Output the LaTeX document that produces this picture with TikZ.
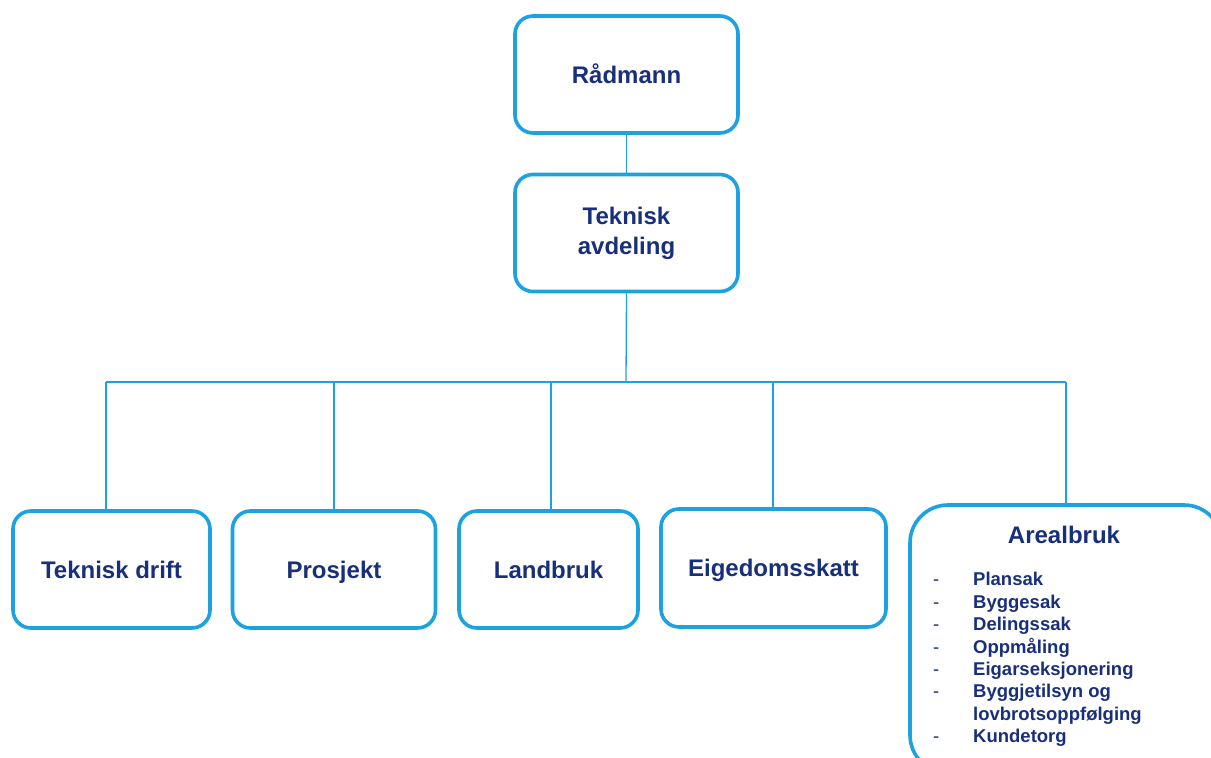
\documentclass[tikz,border=0pt]{standalone}
\usepackage{fontspec}
\setmainfont{Liberation Sans}
\definecolor{boxblue}{HTML}{1CA2E0}
\definecolor{txtblue}{HTML}{182F7C}
\begin{document}
\begin{tikzpicture}[x=1pt,y=-1pt,
  orgbox/.style={draw=boxblue, line width=3.6pt, rounded corners=18pt, fill=white,
    text=txtblue, font=\bfseries\fontsize{24}{30}\selectfont, align=center, inner sep=0pt},
  oneline/.style={text height=17.3pt, text depth=0pt},
  conn/.style={draw=boxblue, line width=1.3pt}]
\useasboundingbox (0,0) rectangle (1211,758);
\clip (0,0) rectangle (1211,758);
\fill[white] (0,0) rectangle (1211,758);

\node[orgbox, oneline, minimum width=223pt, minimum height=117pt] (rad) at (626.5,74.5) {Rådmann};
\node[orgbox, minimum width=223pt, minimum height=117pt] (tek) at (626.5,233) {Teknisk\\avdeling};

\node[orgbox, oneline, minimum width=197pt, minimum height=117pt] (td) at (111.5,569.5) {Teknisk drift};
\node[orgbox, oneline, minimum width=203pt, minimum height=117pt] (pro) at (334,569.5) {Prosjekt};
\node[orgbox, oneline, minimum width=179pt, minimum height=117pt] (land) at (548.5,569.5) {Landbruk};
\node[orgbox, oneline, minimum width=225pt, minimum height=118pt] (eig) at (773.5,568) {Eigedomsskatt};
\node[orgbox, rounded corners=38pt, minimum width=312pt, minimum height=268pt] (are) at (1066,639) {};
\node[text=txtblue, font=\bfseries\fontsize{24}{30}\selectfont, inner sep=0pt] (aretitle) at (1064,535) {Arealbruk};
\node[text=txtblue, font=\bfseries\fontsize{18.5}{22.4}\selectfont, inner sep=0pt, anchor=north west] (arelist) at (933,570)
{\begin{tabular}{@{}p{40pt}@{}l@{}}
\mdseries - & Plansak\\
\mdseries - & Byggesak\\
\mdseries - & Delingssak\\
\mdseries - & Oppmåling\\
\mdseries - & Eigarseksjonering\\
\mdseries - & Byggjetilsyn og\\
   & lovbrotsoppfølging\\
\mdseries - & Kundetorg
\end{tabular}};

\coordinate (bus) at (626,382);
\coordinate (d1) at (106,382);
\coordinate (d2) at (334,382);
\coordinate (d3) at (551,382);
\coordinate (d4) at (773,382);
\coordinate (d5) at (1066,382);
\draw[conn] (rad.south) -- (tek.north);
\draw[conn] (tek.south) -- (bus);
\draw[conn] (d1) -- (d5);
\draw[conn] (d1) -- (d1 |- td.north);
\draw[conn] (d2) -- (d2 |- pro.north);
\draw[conn] (d3) -- (d3 |- land.north);
\draw[conn] (d4) -- (d4 |- eig.north);
\draw[conn] (d5) -- (are.north);
\end{tikzpicture}
\end{document}
